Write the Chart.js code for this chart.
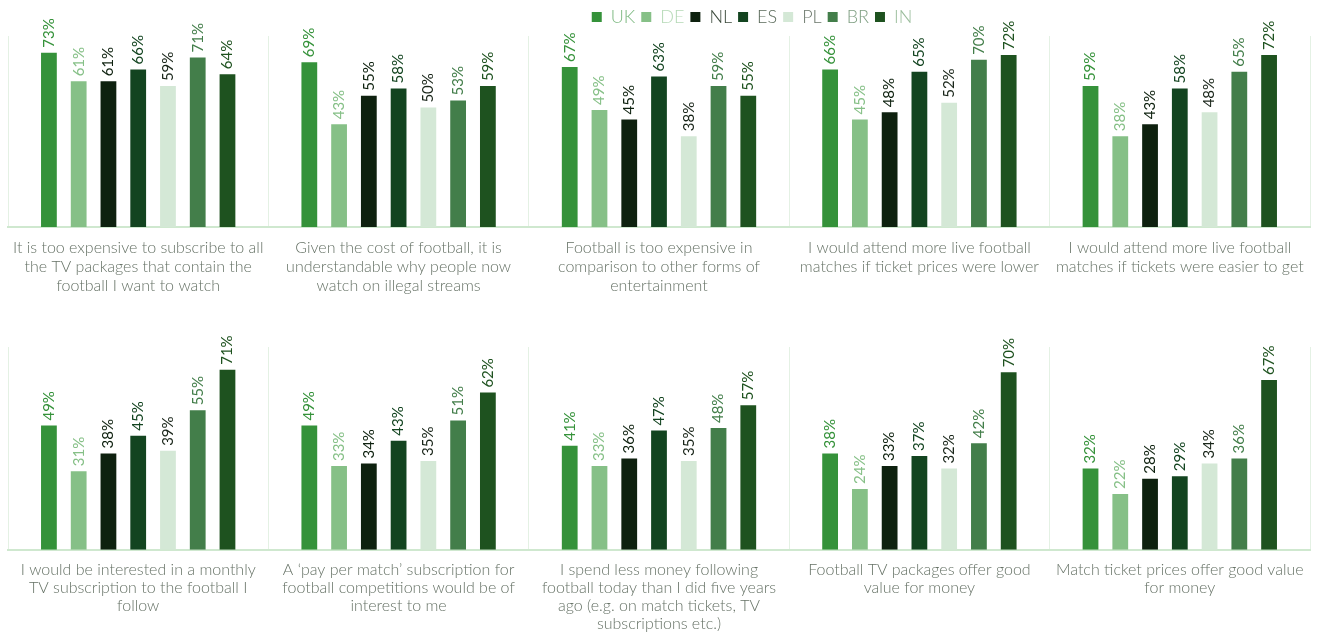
<!DOCTYPE html>
<html>
<head>
<meta charset="utf-8">
<script src="https://cdn.jsdelivr.net/npm/chart.js@4.4.1/dist/chart.umd.min.js"></script>
<style>
  html, body { margin: 0; padding: 0; background: #fff; }
  .wrap { position: absolute; left: 0; width: 1319px; }
  #top { top: 0; height: 306px; }
  #bottom { top: 315px; height: 317px; }
</style>
</head>
<body>
<div class="wrap" id="top"><canvas id="chartTop"></canvas></div>
<div class="wrap" id="bottom"><canvas id="chartBottom"></canvas></div>
<script>
// Ülkeler (seriler)
const countries = ['UK', 'DE', 'NL', 'ES', 'PL', 'BR', 'IN'];
const barColors = ['#35923a', '#86c087', '#0e210f', '#134420', '#d4e8d6', '#437e4a', '#1e521f'];
const valueColors = ['#35923a', '#86c087', '#0e210f', '#134420', '#1a261a', '#437e4a', '#1e521f'];
const legendTextColors = ['#7db981', '#b5d9b6', '#3c4a3c', '#5b6b5b', '#6b776b', '#7f9f82', '#9bbd9c'];

// Üst sıra kategorileri
const topCategories = [
    ['It is too expensive to subscribe to all', 'the TV packages that contain the', 'football I want to watch'],
    ['Given the cost of football, it is', 'understandable why people now', 'watch on illegal streams'],
    ['Football is too expensive in', 'comparison to other forms of', 'entertainment'],
    ['I would attend more live football', 'matches if ticket prices were lower'],
    ['I would attend more live football', 'matches if tickets were easier to get']
];
// Alt sıra kategorileri
const bottomCategories = [
    ['I would be interested in a monthly', 'TV subscription to the football I', 'follow'],
    ['A \u2018pay per match\u2019 subscription for', 'football competitions would be of', 'interest to me'],
    ['I spend less money following', 'football today than I did five years', 'ago (e.g. on match tickets, TV', 'subscriptions etc.)'],
    ['Football TV packages offer good', 'value for money'],
    ['Match ticket prices offer good value', 'for money']
];

// Değerler (%), her ülke için kategori sırasıyla
const topUK = [73, 69, 67, 66, 59];
const topDE = [61, 43, 49, 45, 38];
const topNL = [61, 55, 45, 48, 43];
const topES = [66, 58, 63, 65, 58];
const topPL = [59, 50, 38, 52, 48];
const topBR = [71, 53, 59, 70, 65];
const topIN = [64, 59, 55, 72, 72];

const bottomUK = [49, 49, 41, 38, 32];
const bottomDE = [31, 33, 33, 24, 22];
const bottomNL = [38, 34, 36, 33, 28];
const bottomES = [45, 43, 47, 37, 29];
const bottomPL = [39, 35, 35, 32, 34];
const bottomBR = [55, 51, 48, 42, 36];
const bottomIN = [71, 62, 57, 70, 67];

const yMax = 80;
const fontFamily = 'Lato, "Open Sans", sans-serif';

// Çubukların üstüne dikey yüzde etiketleri
const valueLabels = {
    id: 'valueLabels',
    afterDatasetsDraw: function(chart) {
        const ctx = chart.ctx;
        ctx.save();
        ctx.font = '15px ' + fontFamily;
        ctx.textAlign = 'left';
        ctx.textBaseline = 'middle';
        chart.data.datasets.forEach((ds, i) => {
            const meta = chart.getDatasetMeta(i);
            meta.data.forEach((bar, j) => {
                ctx.save();
                ctx.translate(bar.x, bar.y - 5);
                ctx.rotate(-Math.PI / 2);
                ctx.fillStyle = valueColors[i];
                ctx.fillText(ds.data[j] + '%', 0, 0);
                ctx.restore();
            });
        });
        ctx.restore();
    }
};

// Lejantı biraz sağa kaydır
const legendShift = {
    id: 'legendShift',
    afterLayout: function(chart) {
        if (chart.legend && chart.options.plugins.legend.display) {
            chart.legend.left += 93;
            chart.legend.right += 93;
        }
    }
};

function makeDatasets(series) {
    return countries.map((c, i) => ({
        label: c,
        data: series[i],
        backgroundColor: barColors[i],
        borderWidth: 0,
        categoryPercentage: 0.8,
        barPercentage: 0.53
    }));
}

function makeOptions(showLegend, padTop, padBottom, lineHeight) {
    return {
        responsive: true,
        maintainAspectRatio: false,
        animation: false,
        layout: { padding: { left: 8, right: 9, top: padTop, bottom: padBottom } },
        scales: {
            x: {
                grid: { color: '#e4f1e4', drawTicks: false, offset: true },
                border: { color: '#cfe8cf', width: 2 },
                ticks: {
                    autoSkip: false,
                    maxRotation: 0,
                    minRotation: 0,
                    padding: 11,
                    color: '#667266',
                    font: { family: fontFamily, size: 16, weight: '300', lineHeight: lineHeight }
                }
            },
            y: {
                display: false,
                min: 0,
                max: yMax
            }
        },
        plugins: {
            tooltip: { enabled: false },
            legend: {
                display: showLegend,
                position: 'top',
                labels: {
                    boxWidth: 10,
                    boxHeight: 10,
                    padding: 6,
                    font: { family: fontFamily, size: 18, weight: '300' },
                    generateLabels: function(chart) {
                        return chart.data.datasets.map((ds, i) => ({
                            text: ds.label,
                            fillStyle: barColors[i],
                            strokeStyle: barColors[i],
                            lineWidth: 0,
                            fontColor: legendTextColors[i],
                            hidden: false,
                            datasetIndex: i
                        }));
                    }
                }
            }
        }
    };
}

new Chart(document.getElementById('chartTop'), {
    type: 'bar',
    data: {
        labels: topCategories,
        datasets: makeDatasets([topUK, topDE, topNL, topES, topPL, topBR, topIN])
    },
    options: makeOptions(true, 2, 0, 1.19),
    plugins: [valueLabels, legendShift]
});

new Chart(document.getElementById('chartBottom'), {
    type: 'bar',
    data: {
        labels: bottomCategories,
        datasets: makeDatasets([bottomUK, bottomDE, bottomNL, bottomES, bottomPL, bottomBR, bottomIN])
    },
    options: makeOptions(false, 32, -12, 1.13),
    plugins: [valueLabels]
});
</script>
</body>
</html>
